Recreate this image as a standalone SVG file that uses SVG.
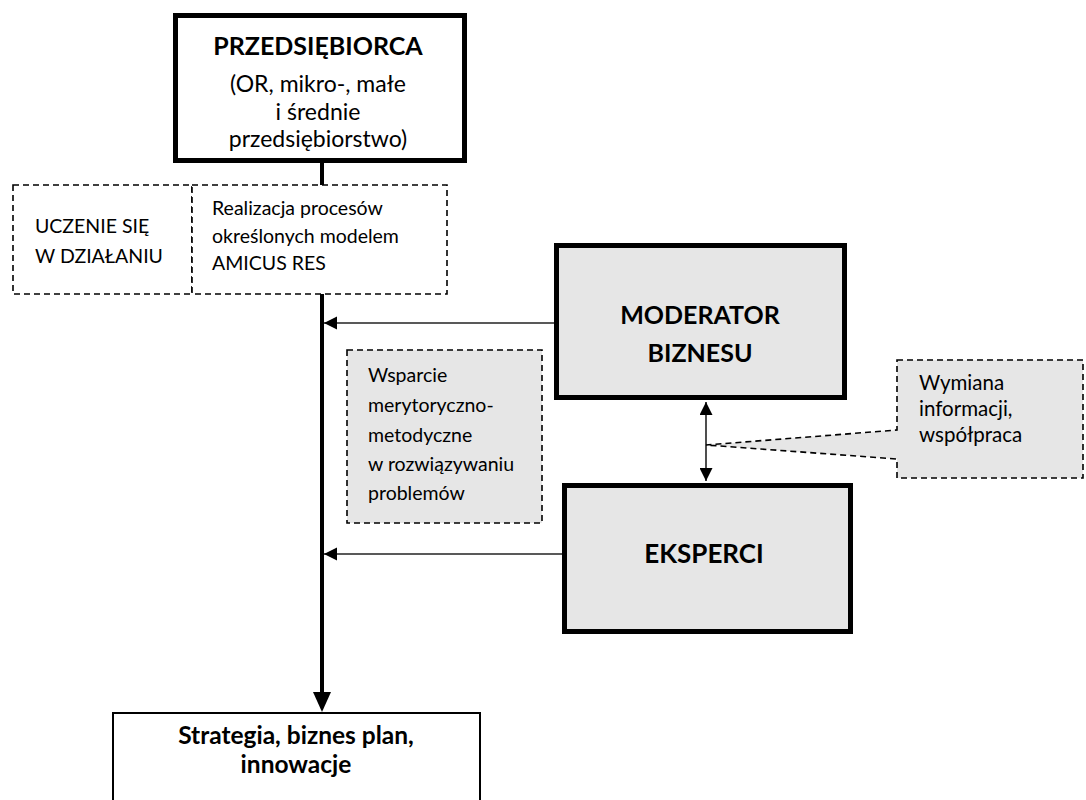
<svg xmlns="http://www.w3.org/2000/svg" width="1086" height="800" viewBox="0 0 1086 800">
<style>
text{font-family:Lato,"Liberation Sans",sans-serif;fill:#000}
.b{font-weight:bold}
.thick{fill:#fff;stroke:#000;stroke-width:5}
.grey{fill:#e6e6e6;stroke:#000;stroke-width:5}
.dash{fill:#fff;stroke:#000;stroke-width:1.6;stroke-dasharray:6 4}
.dashg{fill:#e6e6e6;stroke:#000;stroke-width:1.6;stroke-dasharray:6 4}
.thin{stroke:#222;stroke-width:1.6;fill:none}
</style>
<defs>
<marker id="ah" viewBox="0 0 10 10" refX="10" refY="5" markerWidth="13" markerHeight="15" markerUnits="userSpaceOnUse" orient="auto"><path d="M0,0L10,5L0,10Z" fill="#000"/></marker>
<marker id="ahs" viewBox="0 0 10 10" refX="10" refY="5" markerWidth="13" markerHeight="13" markerUnits="userSpaceOnUse" orient="auto-start-reverse"><path d="M0,0L10,5L0,10Z" fill="#000"/></marker>
</defs>
<g id="connectors">
<line x1="322" y1="160" x2="322" y2="700" stroke="#000" stroke-width="4"/>
<path d="M313,692 L331,692 L322,712 Z" fill="#000"/>
<line class="thin" x1="554" y1="323" x2="324" y2="323" marker-end="url(#ah)"/>
<line class="thin" x1="562" y1="554" x2="324" y2="554" marker-end="url(#ah)"/>
<line class="thin" x1="706" y1="402" x2="706" y2="481" marker-start="url(#ahs)" marker-end="url(#ahs)"/>
</g>
<g id="przedsiebiorca">
<rect class="thick" x="175.5" y="15.5" width="289" height="145"/>
<text class="b" x="318" y="55" font-size="25" text-anchor="middle">PRZEDSIĘBIORCA</text>
<text x="318" y="92" font-size="23" text-anchor="middle">(OR, mikro-, małe</text>
<text x="318" y="120" font-size="23" text-anchor="middle">i średnie</text>
<text x="318" y="147" font-size="23" text-anchor="middle">przedsiębiorstwo)</text>
</g>
<g id="uczenie">
<rect class="dash" x="13" y="185" width="179" height="109"/>
<text x="35" y="233" font-size="19.5">UCZENIE SIĘ</text>
<text x="35" y="263" font-size="19.5">W DZIAŁANIU</text>
</g>
<g id="realizacja">
<rect class="dash" x="192" y="185" width="255" height="109"/>
<text x="212" y="215" font-size="19.5">Realizacja procesów</text>
<text x="212" y="243" font-size="19.5">określonych modelem</text>
<text x="212" y="270" font-size="19.5">AMICUS RES</text>
</g>
<g id="moderator">
<rect class="grey" x="556.5" y="245.5" width="288" height="152"/>
<text class="b" x="700" y="324" font-size="25" text-anchor="middle">MODERATOR</text>
<text class="b" x="700" y="362" font-size="25" text-anchor="middle">BIZNESU</text>
</g>
<g id="wsparcie">
<rect class="dashg" x="347" y="350" width="195" height="173"/>
<text x="368" y="382" font-size="19.5">Wsparcie</text>
<text x="368" y="412" font-size="19.5">merytoryczno-</text>
<text x="368" y="442" font-size="19.5">metodyczne</text>
<text x="368" y="471" font-size="19.5">w rozwiązywaniu</text>
<text x="368" y="500" font-size="19.5">problemów</text>
</g>
<g id="wymiana">
<path class="dashg" d="M897,360 H1083 V478 H897 V459 L706,445 L897,430 Z"/>
<text x="919" y="390" font-size="20.5">Wymiana</text>
<text x="919" y="416" font-size="20.5">informacji,</text>
<text x="919" y="442" font-size="20.5">współpraca</text>
</g>
<g id="eksperci">
<rect class="grey" x="564.5" y="485.5" width="286" height="146"/>
<text class="b" x="704" y="563" font-size="26" text-anchor="middle">EKSPERCI</text>
</g>
<g id="strategia">
<rect x="113" y="713" width="367" height="100" fill="#fff" stroke="#000" stroke-width="2"/>
<text class="b" x="296" y="744" font-size="24.5" text-anchor="middle">Strategia, biznes plan,</text>
<text class="b" x="296" y="773" font-size="24.5" text-anchor="middle">innowacje</text>
</g>
</svg>
